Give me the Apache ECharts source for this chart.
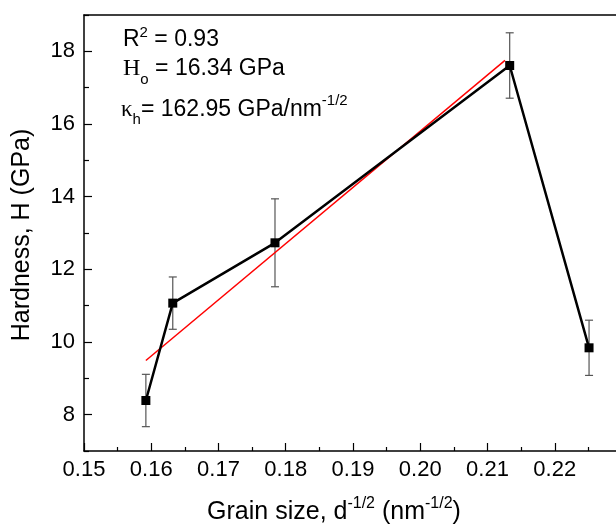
<!DOCTYPE html>
<html>
<head>
<meta charset="utf-8">
<script src="https://cdn.jsdelivr.net/npm/echarts@6/dist/echarts.min.js"></script>
<style>
  html, body { margin: 0; padding: 0; background: #fff; }
  #main { width: 616px; height: 530px; }
</style>
</head>
<body>
<div id="main"></div>
<script>
// grain size d^-1/2 (nm^-1/2) and hardness (GPa)
var grain = [0.1592, 0.1632, 0.1784, 0.2133, 0.2251];
var hardness = [8.39, 11.07, 12.73, 17.61, 9.84];
var errBar = [0.72, 0.72, 1.21, 0.90, 0.76];

// linear fit line ends
var fitX = [0.1592, 0.2126];
var fitY = [9.49, 17.75];

var yMajorTicks = [8, 10, 12, 14, 16, 18];
var yMinorTicks = [7, 9, 11, 13, 15, 17, 19];

var FONT = 'Liberation Sans, Arial, sans-serif';
var SERIF = 'Liberation Serif, Times New Roman, serif';

var chart = echarts.init(document.getElementById('main'));

var pts = grain.map(function (x, i) { return [x, hardness[i]]; });
var errData = grain.map(function (x, i) { return [x, hardness[i] - errBar[i], hardness[i] + errBar[i]]; });
var fitData = fitX.map(function (x, i) { return [x, fitY[i]]; });

var option = {
  animation: false,
  backgroundColor: '#fff',
  grid: { left: 84, top: 15, right: -6, bottom: 79, containLabel: false, outerBoundsMode: 'none' },
  xAxis: [{
    type: 'value',
    min: 0.15,
    max: 0.23,
    interval: 0.01,
    axisLine: { lineStyle: { color: '#000', width: 1.5 } },
    axisTick: { inside: true, length: 8, lineStyle: { color: '#000', width: 1.2 } },
    minorTick: { show: true, splitNumber: 2, length: 4, lineStyle: { color: '#000', width: 1.2 } },
    axisLabel: {
      showMaxLabel: false,
      margin: 8,
      fontFamily: FONT, fontSize: 22, color: '#000',
      formatter: function (v) { return v.toFixed(2); }
    },
    splitLine: { show: false }
  }, {
    type: 'value',
    position: 'top',
    min: 0.15,
    max: 0.23,
    axisLine: { show: true, onZero: false, lineStyle: { color: '#000', width: 1.5 } },
    axisTick: { show: false },
    axisLabel: { show: false },
    splitLine: { show: false }
  }],
  yAxis: [{
    type: 'value',
    min: 7,
    max: 19,
    axisLine: { show: true, lineStyle: { color: '#000', width: 1.5 } },
    axisTick: { inside: true, length: 8, customValues: yMajorTicks, lineStyle: { color: '#000', width: 1.2 } },
    axisLabel: { customValues: yMajorTicks, margin: 9, fontFamily: FONT, fontSize: 22, color: '#000' },
    splitLine: { show: false }
  }, {
    type: 'value',
    position: 'left',
    min: 7,
    max: 19,
    axisLine: { show: false },
    axisTick: { show: true, inside: true, length: 5, customValues: yMinorTicks, lineStyle: { color: '#000', width: 1.2 } },
    axisLabel: { show: false },
    splitLine: { show: false }
  }],
  graphic: [{
    // y axis title
    type: 'text', x: 22, y: 235, rotation: Math.PI / 2,
    style: {
      text: 'Hardness, H (GPa)',
      fontFamily: FONT, fontSize: 25, fill: '#000',
      align: 'center', verticalAlign: 'middle'
    }
  }, {
    // x axis title
    type: 'text', x: 334, y: 512,
    style: {
      text: '{a|Grain size, d}{s|-1/2}{a| (nm}{s|-1/2}{a|)}',
      align: 'center', verticalAlign: 'middle',
      rich: {
        a: { fontFamily: FONT, fontSize: 25, fill: '#000', lineHeight: 32 },
        s: { fontFamily: FONT, fontSize: 16, fill: '#000', verticalAlign: 'top', lineHeight: 32 }
      }
    }
  }, {
    type: 'text', left: 123, top: 25,
    style: {
      text: '{a|R}{s|2}{a| = 0.93}',
      rich: {
        a: { fontFamily: FONT, fontSize: 23, fill: '#000', lineHeight: 30 },
        s: { fontFamily: FONT, fontSize: 15, fill: '#000', lineHeight: 30, verticalAlign: 'top' }
      }
    }
  }, {
    type: 'text', left: 123, top: 57,
    style: {
      text: '{h|H}{b|o}{a| = 16.34 GPa}',
      rich: {
        h: { fontFamily: SERIF, fontSize: 24, fill: '#000', lineHeight: 30 },
        a: { fontFamily: FONT, fontSize: 23, fill: '#000', lineHeight: 30 },
        b: { fontFamily: FONT, fontSize: 15, fill: '#000', lineHeight: 36, verticalAlign: 'bottom' }
      }
    }
  }, {
    type: 'text', left: 121, top: 93,
    style: {
      text: '{k|κ}{b|h}{a|= 162.95 GPa/nm}{s|-1/2}',
      rich: {
        k: { fontFamily: SERIF, fontSize: 23, fill: '#000', lineHeight: 30 },
        a: { fontFamily: FONT, fontSize: 23, fill: '#000', lineHeight: 30 },
        b: { fontFamily: FONT, fontSize: 15, fill: '#000', lineHeight: 34, verticalAlign: 'bottom' },
        s: { fontFamily: FONT, fontSize: 15, fill: '#000', lineHeight: 30, verticalAlign: 'top' }
      }
    }
  }],
  series: [{
    type: 'custom',
    name: 'error',
    z: 1,
    data: errData,
    renderItem: function (params, api) {
      var x = api.value(0);
      var lo = api.coord([x, api.value(1)]);
      var hi = api.coord([x, api.value(2)]);
      var cap = 4;
      var st = { stroke: '#555', lineWidth: 1.2 };
      return {
        type: 'group',
        children: [
          { type: 'line', shape: { x1: lo[0], y1: lo[1], x2: hi[0], y2: hi[1] }, style: st },
          { type: 'line', shape: { x1: lo[0] - cap, y1: lo[1], x2: lo[0] + cap, y2: lo[1] }, style: st },
          { type: 'line', shape: { x1: hi[0] - cap, y1: hi[1], x2: hi[0] + cap, y2: hi[1] }, style: st }
        ]
      };
    }
  }, {
    type: 'line',
    name: 'fit',
    z: 2,
    data: fitData,
    showSymbol: false,
    lineStyle: { color: '#ff0000', width: 1.5 }
  }, {
    type: 'line',
    name: 'hardness',
    z: 3,
    data: pts,
    symbol: 'rect',
    symbolSize: 9,
    itemStyle: { color: '#000' },
    lineStyle: { color: '#000', width: 2.5 }
  }]
};

chart.setOption(option);
</script>
</body>
</html>
